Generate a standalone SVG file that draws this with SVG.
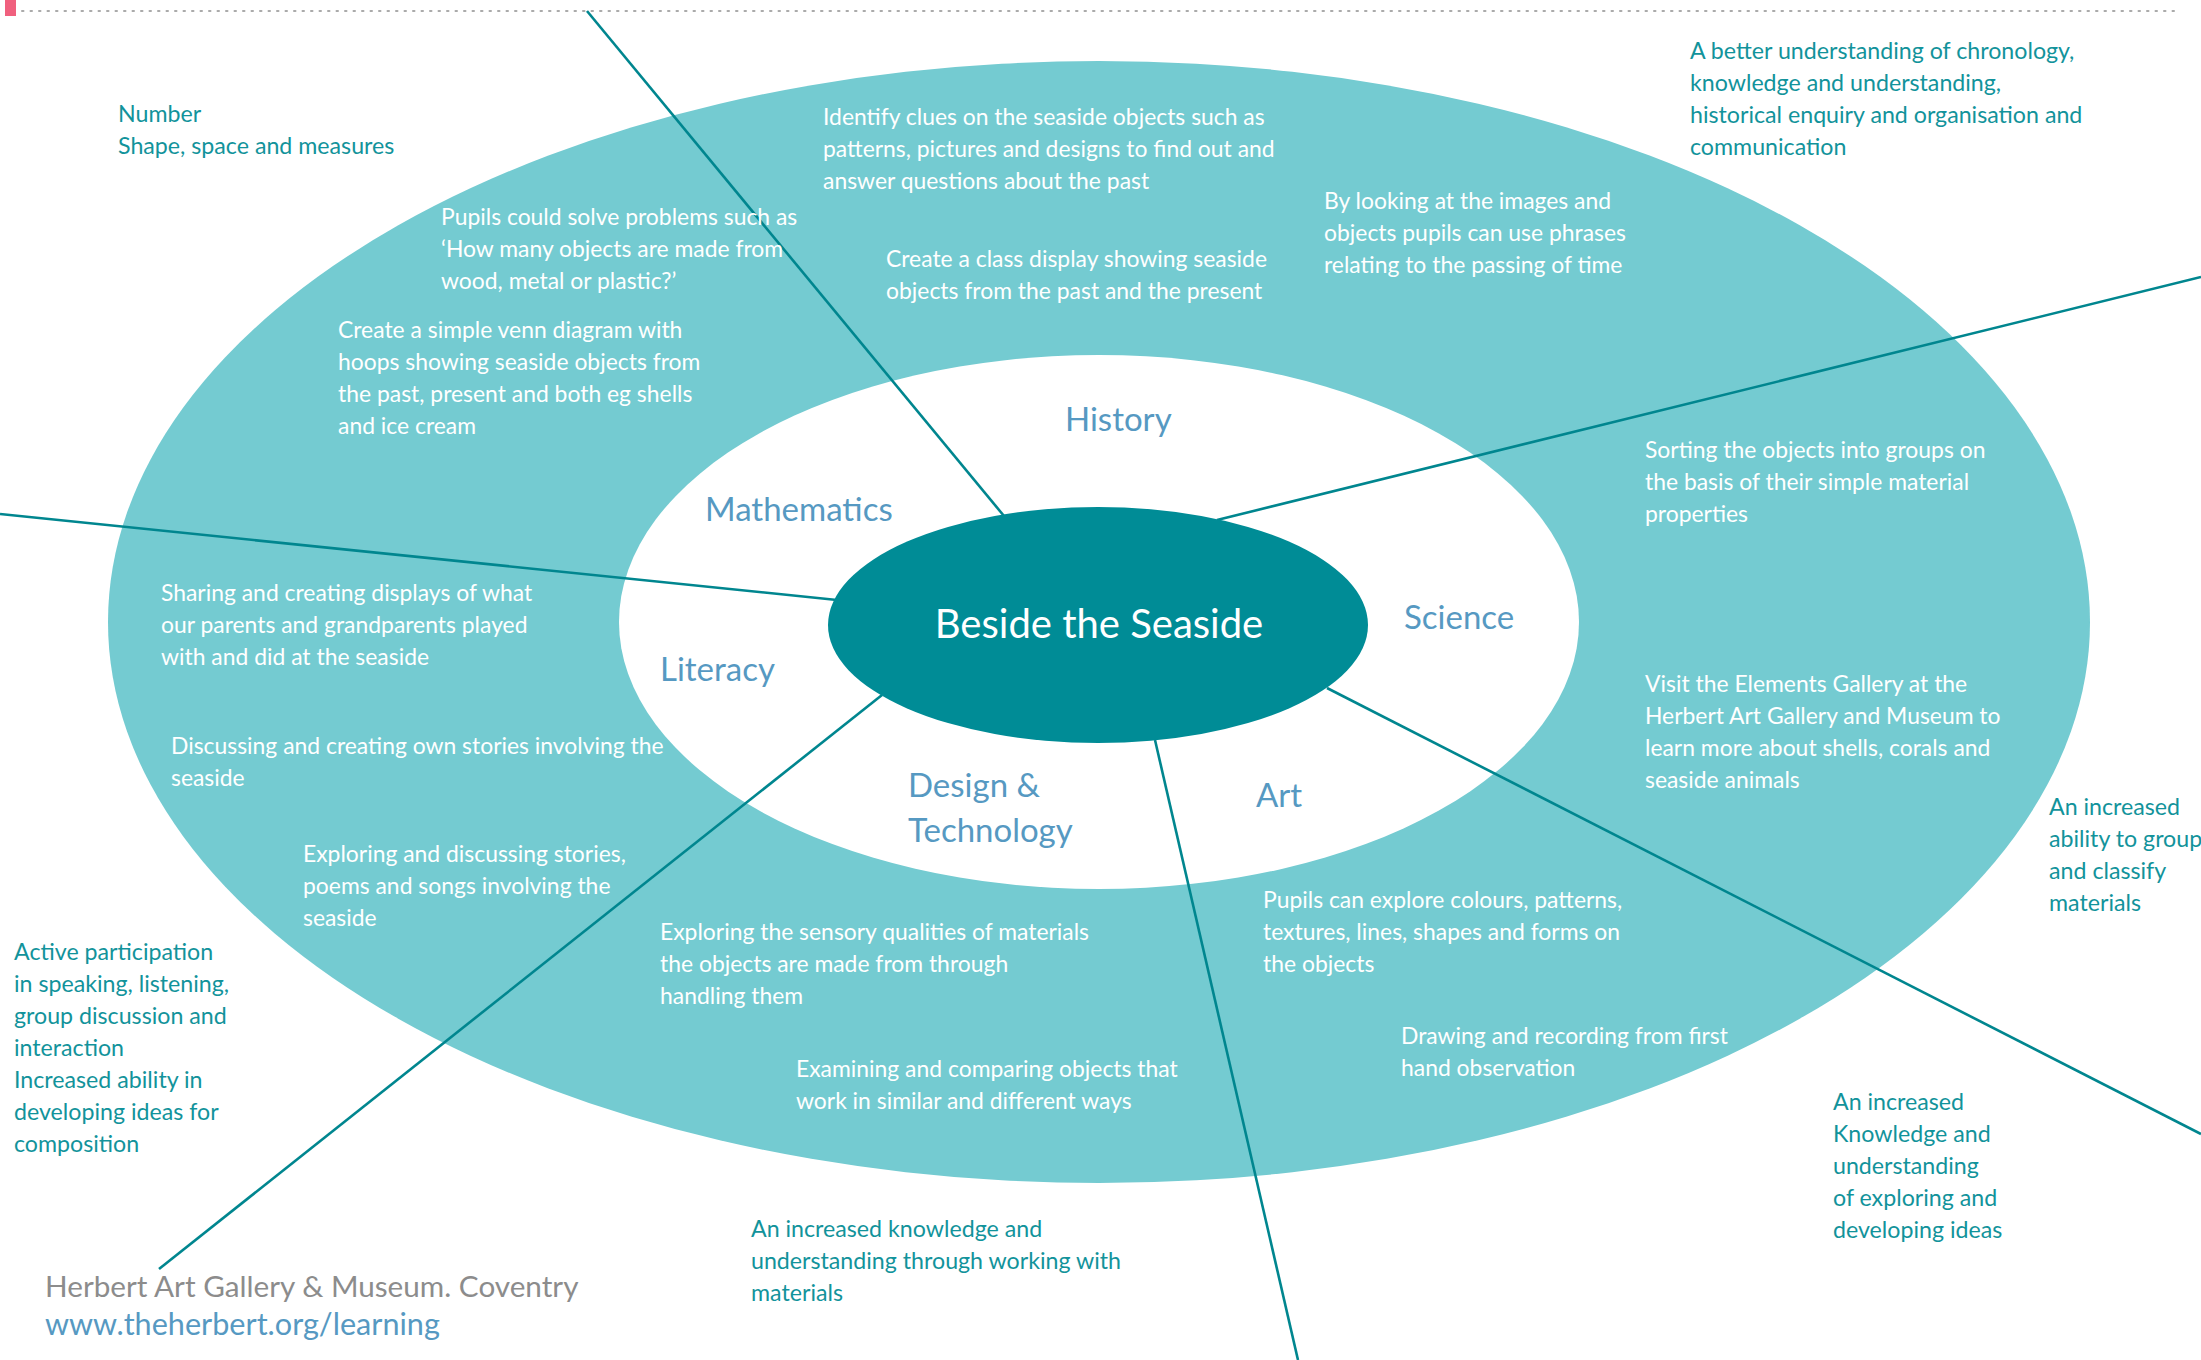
<svg xmlns="http://www.w3.org/2000/svg" width="2201" height="1360" viewBox="0 0 2201 1360">
<style>
text{font-family:Lato,"Open Sans","Noto Sans",sans-serif;}
.w{fill:#ffffff;font-size:22.9px;}
.o{fill:#12939B;font-size:23.2px;}
.o2{fill:#12939B;font-size:23.2px;}
.lab{fill:#5699C2;font-size:33px;}
.ln{stroke:#00868F;stroke-width:2.6;fill:none;}
</style>
<rect x="0" y="0" width="2201" height="1360" fill="#ffffff"/>
<rect x="5" y="0" width="11" height="16" fill="#F0607E"/>
<line x1="22" y1="11" x2="2176" y2="11" stroke="#AAAAAA" stroke-width="2" stroke-dasharray="1.5 7" stroke-linecap="round"/>
<g id="outer-ring"><ellipse cx="1099" cy="622" rx="991" ry="561" fill="#74CBD1"/></g>
<g id="inner-ring"><ellipse cx="1099" cy="622" rx="480" ry="267" fill="#ffffff"/></g>
<g id="connectors">
<line class="ln" x1="587" y1="11" x2="1004" y2="516"/>
<line class="ln" x1="1217" y1="520" x2="2201" y2="277"/>
<line class="ln" x1="0" y1="514" x2="837" y2="600"/>
<line class="ln" x1="882" y1="695" x2="159" y2="1269"/>
<line class="ln" x1="1155" y1="740" x2="1298" y2="1360"/>
<line class="ln" x1="1327" y1="688" x2="2201" y2="1134"/>
</g>
<g id="centre">
<ellipse cx="1098" cy="625" rx="270" ry="118" fill="#008C96"/>
<text x="1099" y="638" fill="#ffffff" font-size="40" text-anchor="middle">Beside the Seaside</text>
</g>
<g id="labels">
<text class="lab" x="1065" y="431">History</text>
<text class="lab" x="705" y="521">Mathematics</text>
<text class="lab" x="1404" y="629">Science</text>
<text class="lab" x="660" y="681">Literacy</text>
<text class="lab" x="908" y="797">Design &amp;</text>
<text class="lab" x="908" y="842">Technology</text>
<text class="lab" x="1256" y="807">Art</text>
</g>
<g id="activities">
<text class="w" x="823" y="125">Identify clues on the seaside objects such as<tspan x="823" dy="32">patterns, pictures and designs to find out and</tspan><tspan x="823" dy="32">answer questions about the past</tspan></text>
<text class="w" x="886" y="267">Create a class display showing seaside<tspan x="886" dy="32">objects from the past and the present</tspan></text>
<text class="w" x="1324" y="209">By looking at the images and<tspan x="1324" dy="32">objects pupils can use phrases</tspan><tspan x="1324" dy="32">relating to the passing of time</tspan></text>
<text class="w" x="441" y="225">Pupils could solve problems such as<tspan x="441" dy="32">‘How many objects are made from</tspan><tspan x="441" dy="32">wood, metal or plastic?’</tspan></text>
<text class="w" x="338" y="338">Create a simple venn diagram with<tspan x="338" dy="32">hoops showing seaside objects from</tspan><tspan x="338" dy="32">the past, present and both eg shells</tspan><tspan x="338" dy="32">and ice cream</tspan></text>
<text class="w" x="1645" y="458">Sorting the objects into groups on<tspan x="1645" dy="32">the basis of their simple material</tspan><tspan x="1645" dy="32">properties</tspan></text>
<text class="w" x="161" y="601">Sharing and creating displays of what<tspan x="161" dy="32">our parents and grandparents played</tspan><tspan x="161" dy="32">with and did at the seaside</tspan></text>
<text class="w" x="1645" y="692">Visit the Elements Gallery at the<tspan x="1645" dy="32">Herbert Art Gallery and Museum to</tspan><tspan x="1645" dy="32">learn more about shells, corals and</tspan><tspan x="1645" dy="32">seaside animals</tspan></text>
<text class="w" x="171" y="754">Discussing and creating own stories involving the<tspan x="171" dy="32">seaside</tspan></text>
<text class="w" x="303" y="862">Exploring and discussing stories,<tspan x="303" dy="32">poems and songs involving the</tspan><tspan x="303" dy="32">seaside</tspan></text>
<text class="w" x="1263" y="908">Pupils can explore colours, patterns,<tspan x="1263" dy="32">textures, lines, shapes and forms on</tspan><tspan x="1263" dy="32">the objects</tspan></text>
<text class="w" x="660" y="940">Exploring the sensory qualities of materials<tspan x="660" dy="32">the objects are made from through</tspan><tspan x="660" dy="32">handling them</tspan></text>
<text class="w" x="1401" y="1044">Drawing and recording from first<tspan x="1401" dy="32">hand observation</tspan></text>
<text class="w" x="796" y="1077">Examining and comparing objects that<tspan x="796" dy="32">work in similar and different ways</tspan></text>
</g>
<g id="outcomes">
<text class="o" x="118" y="122">Number<tspan x="118" dy="32">Shape, space and measures</tspan></text>
<text class="o2" x="1690" y="59">A better understanding of chronology,<tspan x="1690" dy="32">knowledge and understanding,</tspan><tspan x="1690" dy="32">historical enquiry and organisation and</tspan><tspan x="1690" dy="32">communication</tspan></text>
<text class="o2" x="2049" y="815">An increased<tspan x="2049" dy="32">ability to group</tspan><tspan x="2049" dy="32">and classify</tspan><tspan x="2049" dy="32">materials</tspan></text>
<text class="o" x="14" y="960">Active participation<tspan x="14" dy="32">in speaking, listening,</tspan><tspan x="14" dy="32">group discussion and</tspan><tspan x="14" dy="32">interaction</tspan><tspan x="14" dy="32">Increased ability in</tspan><tspan x="14" dy="32">developing ideas for</tspan><tspan x="14" dy="32">composition</tspan></text>
<text class="o2" x="1833" y="1110">An increased<tspan x="1833" dy="32">Knowledge and</tspan><tspan x="1833" dy="32">understanding</tspan><tspan x="1833" dy="32">of exploring and</tspan><tspan x="1833" dy="32">developing ideas</tspan></text>
<text class="o" x="751" y="1237">An increased knowledge and<tspan x="751" dy="32">understanding through working with</tspan><tspan x="751" dy="32">materials</tspan></text>
</g>
<g id="footer">
<text x="45" y="1297" fill="#8C8C8C" font-size="29.7">Herbert Art Gallery &amp; Museum. Coventry</text>
<text x="45" y="1335" fill="#5699C2" font-size="30.6">www.theherbert.org/learning</text>
</g>
</svg>
